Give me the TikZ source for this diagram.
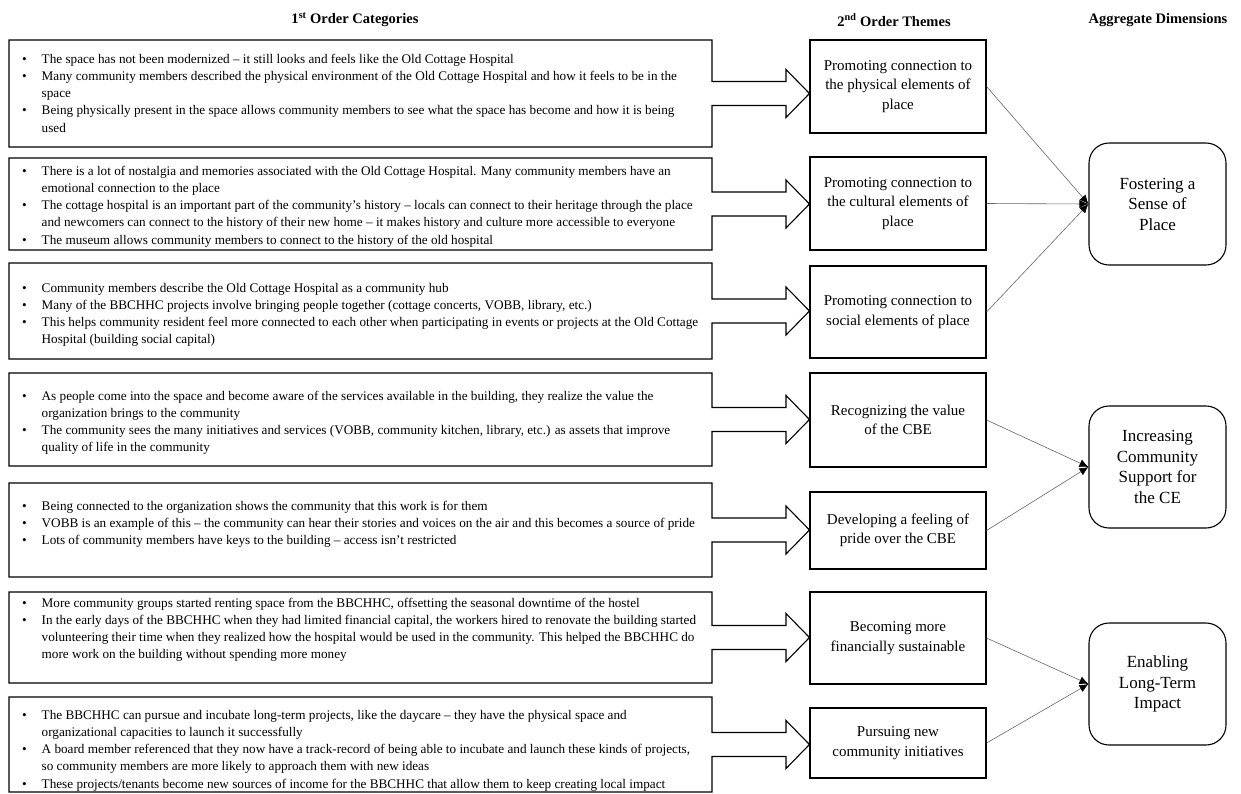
\documentclass[tikz,border=0pt]{standalone}
\usepackage{fontspec}
\setmainfont{Liberation Serif}
\usetikzlibrary{arrows.meta}
\newcommand\bl{\strut\makebox[19.5pt][l]{•}}
\newcommand\cl{\strut\hspace*{19.5pt}}
\newcommand\catshape[4]{%
  \draw[catline] (9,#1) -- (712,#1) -- (712,#3-12) -- (786,#3-12) -- (786,#3-24)
    -- (#4.west |- 0,#3) -- (786,#3+24) -- (786,#3+12) -- (712,#3+12) -- (712,#2) -- (9,#2) -- cycle;}
\begin{document}
\begin{tikzpicture}[x=1pt,y=-1pt,
  catline/.style={draw=black, line width=1.1pt, line join=miter},
  cattext/.style={anchor=north west, inner sep=0pt, align=left, font=\fontsize{13.2}{17.2}\selectfont},
  theme/.style={draw, line width=1.1pt, minimum width=176pt, align=center, inner sep=2pt, font=\fontsize{15}{19.5}\selectfont},
  agg/.style={draw, line width=1.1pt, rounded corners=20pt, minimum width=137pt, minimum height=122pt, align=center, font=\fontsize{17}{20.5}\selectfont},
  header/.style={font=\fontsize{14.5}{16}\selectfont\bfseries, inner sep=0pt},
  link/.style={draw=black!60, line width=0.6pt, -{Latex[length=9pt,width=8pt,color=black]}}
]
\useasboundingbox (0,0) rectangle (1241,793);

% headers
\node[header] (h1) at (355,20) {1\textsuperscript{st} Order Categories};
\node[header] (h2) at (894,20) {2\textsuperscript{nd} Order Themes};
\node[header] (h3) at (1158,20) {Aggregate Dimensions};

% 2nd order themes
\node[theme, minimum height=93pt] (t1) at (898,86.5) {Promoting connection to\\the physical elements of\\place};
\node[theme, minimum height=93pt] (t2) at (898,203.5) {Promoting connection to\\the cultural elements of\\place};
\node[theme, minimum height=92pt] (t3) at (898,312) {Promoting connection to\\social elements of place};
\node[theme, minimum height=94pt] (t4) at (898,420) {Recognizing the value\\of the CBE};
\node[theme, minimum height=77pt] (t5) at (898,530.5) {Developing a feeling of\\pride over the CBE};
\node[theme, minimum height=92pt] (t6) at (898,638) {Becoming more\\financially sustainable};
\node[theme, minimum height=70pt] (t7) at (898,743) {Pursuing new\\community initiatives};

% aggregate dimensions
\node[agg] (a1) at (1157.5,204) {Fostering a\\Sense of\\Place};
\node[agg] (a2) at (1157.5,467) {Increasing\\Community\\Support for\\the CE};
\node[agg] (a3) at (1157.5,684) {Enabling\\Long-Term\\Impact};

% 1st order category boxes
\catshape{40}{147}{93.5}{t1}
\catshape{158}{250}{204}{t2}
\catshape{263}{359}{311}{t3}
\catshape{373}{466}{419.5}{t4}
\catshape{483}{577}{530}{t5}
\catshape{592}{683}{637.5}{t6}
\catshape{697}{792}{744.5}{t7}

\node[cattext] (c1) at (22,51) {%
\bl The space has not been modernized – it still looks and feels like the Old Cottage Hospital\\
\bl Many community members described the physical environment of the Old Cottage Hospital and how it feels to be in the\\
\cl space\\
\bl Being physically present in the space allows community members to see what the space has become and how it is being\\
\cl used};

\node[cattext] (c2) at (22,163) {%
\bl There is a lot of nostalgia and memories associated with the Old Cottage Hospital. Many community members have an\\
\cl emotional connection to the place\\
\bl The cottage hospital is an important part of the community’s history – locals can connect to their heritage through the place\\
\cl and newcomers can connect to the history of their new home – it makes history and culture more accessible to everyone\\
\bl The museum allows community members to connect to the history of the old hospital};

\node[cattext] (c3) at (22,280) {%
\bl Community members describe the Old Cottage Hospital as a community hub\\
\bl Many of the BBCHHC projects involve bringing people together (cottage concerts, VOBB, library, etc.)\\
\bl This helps community resident feel more connected to each other when participating in events or projects at the Old Cottage\\
\cl Hospital (building social capital)};

\node[cattext] (c4) at (22,388) {%
\bl As people come into the space and become aware of the services available in the building, they realize the value the\\
\cl organization brings to the community\\
\bl The community sees the many initiatives and services (VOBB, community kitchen, library, etc.) as assets that improve\\
\cl quality of life in the community};

\node[cattext] (c5) at (22,498) {%
\bl Being connected to the organization shows the community that this work is for them\\
\bl VOBB is an example of this – the community can hear their stories and voices on the air and this becomes a source of pride\\
\bl Lots of community members have keys to the building – access isn’t restricted};

\node[cattext] (c6) at (22,595) {%
\bl More community groups started renting space from the BBCHHC, offsetting the seasonal downtime of the hostel\\
\bl In the early days of the BBCHHC when they had limited financial capital, the workers hired to renovate the building started\\
\cl volunteering their time when they realized how the hospital would be used in the community. This helped the BBCHHC do\\
\cl more work on the building without spending more money};

\node[cattext] (c7) at (22,707) {%
\bl The BBCHHC can pursue and incubate long-term projects, like the daycare – they have the physical space and\\
\cl organizational capacities to launch it successfully\\
\bl A board member referenced that they now have a track-record of being able to incubate and launch these kinds of projects,\\
\cl so community members are more likely to approach them with new ideas\\
\bl These projects/tenants become new sources of income for the BBCHHC that allow them to keep creating local impact};

% links
\draw[link] (t1.east) -- (a1.west);
\draw[link] (t2.east) -- (a1.west);
\draw[link] (t3.east) -- (a1.west);
\draw[link] (t4.east) -- (a2.west);
\draw[link] (t5.east) -- (a2.west);
\draw[link] (t6.east) -- (a3.west);
\draw[link] (t7.east) -- (a3.west);
\end{tikzpicture}
\end{document}
